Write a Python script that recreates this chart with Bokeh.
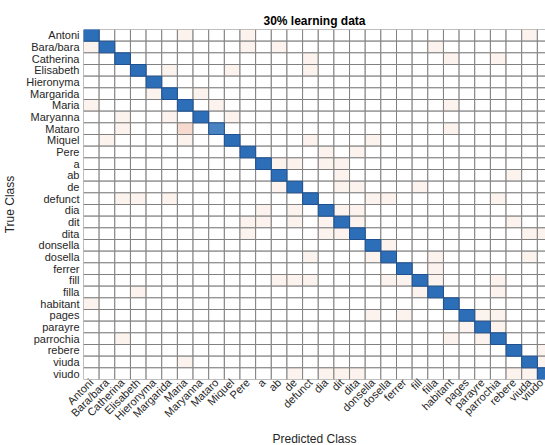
import math

from bokeh.embed import file_html
from bokeh.models import ColumnDataSource, FixedTicker, Range1d, Title
from bokeh.plotting import figure
from bokeh.resources import INLINE

# Class names (rows = true class, columns = predicted class)
classes = [
    "Antoni", "Bara/bara", "Catherina", "Elisabeth", "Hieronyma", "Margarida",
    "Maria", "Maryanna", "Mataro", "Miquel", "Pere", "a", "ab", "de", "defunct",
    "dia", "dit", "dita", "donsella", "dosella", "ferrer", "fill", "filla",
    "habitant", "pages", "parayre", "parrochia", "rebere", "viuda", "viudo",
]

# Correct predictions per class (diagonal of the confusion matrix)
diag_counts = [
    14, 14, 14, 14, 14, 14, 14, 14, 12, 14, 14, 14, 14, 14, 14,
    14, 14, 14, 14, 14, 14, 14, 14, 14, 14, 14, 14, 14, 14, 14,
]

# Misclassifications: (true class, predicted class, count)
errors = [
    ("Antoni", "Maria", 1), ("Antoni", "Pere", 1), ("Antoni", "viuda", 1),
    ("Bara/bara", "Antoni", 1), ("Bara/bara", "Pere", 1), ("Bara/bara", "ab", 1),
    ("Bara/bara", "filla", 1),
    ("Catherina", "defunct", 1), ("Catherina", "habitant", 1), ("Catherina", "parrochia", 1),
    ("Elisabeth", "Margarida", 1), ("Elisabeth", "Miquel", 1), ("Elisabeth", "defunct", 1),
    ("Margarida", "Hieronyma", 1), ("Margarida", "Maryanna", 1),
    ("Maria", "Antoni", 1), ("Maria", "Mataro", 1), ("Maria", "habitant", 1),
    ("Maryanna", "Catherina", 1), ("Maryanna", "Margarida", 1), ("Maryanna", "Miquel", 1),
    ("Mataro", "Catherina", 1), ("Mataro", "Maria", 3), ("Mataro", "habitant", 1),
    ("Miquel", "Bara/bara", 1), ("Miquel", "Maria", 1), ("Miquel", "defunct", 1),
    ("Miquel", "donsella", 1),
    ("Pere", "dia", 1), ("Pere", "dita", 1),
    ("a", "ab", 1), ("a", "de", 1), ("a", "dia", 1), ("a", "dit", 1),
    ("ab", "dit", 1), ("ab", "rebere", 1),
    ("de", "ab", 1), ("de", "dit", 1), ("de", "dita", 1), ("de", "fill", 1),
    ("defunct", "Catherina", 1), ("defunct", "Elisabeth", 1), ("defunct", "Margarida", 1),
    ("defunct", "donsella", 1), ("defunct", "dosella", 1), ("defunct", "parrochia", 1),
    ("dia", "a", 1), ("dia", "de", 1), ("dia", "dit", 1), ("dia", "dita", 1),
    ("dit", "Pere", 1), ("dit", "a", 1), ("dit", "de", 1), ("dit", "dia", 1),
    ("dit", "dita", 1), ("dit", "rebere", 1),
    ("dita", "Pere", 1), ("dita", "dia", 1), ("dita", "dit", 1), ("dita", "viuda", 1),
    ("dita", "viudo", 1),
    ("donsella", "dosella", 1),
    ("dosella", "defunct", 1), ("dosella", "donsella", 1), ("dosella", "filla", 1),
    ("dosella", "viuda", 1),
    ("ferrer", "filla", 1),
    ("fill", "ab", 1), ("fill", "de", 1), ("fill", "defunct", 1), ("fill", "dosella", 1),
    ("fill", "ferrer", 1), ("fill", "filla", 1), ("fill", "parrochia", 1),
    ("filla", "Elisabeth", 1), ("filla", "fill", 1), ("filla", "parrochia", 1),
    ("habitant", "Antoni", 1),
    ("pages", "donsella", 1), ("pages", "ferrer", 1), ("pages", "parayre", 1),
    ("pages", "parrochia", 1),
    ("parayre", "pages", 1), ("parayre", "parrochia", 1),
    ("parrochia", "Catherina", 1), ("parrochia", "habitant", 1), ("parrochia", "parayre", 1),
    ("rebere", "viudo", 1),
    ("viuda", "Maria", 1), ("viuda", "viudo", 1),
    ("viudo", "de", 1), ("viudo", "dia", 1), ("viudo", "dit", 1), ("viudo", "dita", 1),
    ("viudo", "rebere", 1), ("viudo", "viuda", 1),
]

n = len(classes)
index = {name: i for i, name in enumerate(classes)}

counts = [[0] * n for _ in range(n)]
for i, v in enumerate(diag_counts):
    counts[i][i] = v
for t, pcls, v in errors:
    counts[index[t]][index[pcls]] += v

vmax = max(max(row) for row in counts)

DIAG_RGB = (44, 110, 184)
OFF_RGB = (217, 83, 25)


def shade(rgb, frac):
    r, g, b = (round(255 - (255 - c) * frac) for c in rgb)
    return f"#{r:02x}{g:02x}{b:02x}"


cells = dict(left=[], right=[], top=[], bottom=[], color=[])
diag = dict(left=[], right=[], top=[], bottom=[], color=[])
for r in range(n):
    for c in range(n):
        v = counts[r][c]
        target = diag if r == c else cells
        target["left"].append(c)
        target["right"].append(c + 1)
        target["top"].append(r)
        target["bottom"].append(r + 1)
        if v == 0:
            target["color"].append("#ffffff")
        else:
            target["color"].append(shade(DIAG_RGB if r == c else OFF_RGB, v / vmax))

FONT = "Liberation Sans"

p = figure(
    width=545, height=445,
    x_range=Range1d(0, 29.52), y_range=Range1d(n, 0),
    output_backend="svg", toolbar_location=None,
    min_border_left=83, min_border_right=0, min_border_top=29, min_border_bottom=63,
    title="30% learning data",
)
p.title.align = "center"
p.title.text_font = FONT
p.title.text_font_size = "12px"
p.title.text_font_style = "bold"
p.title.text_color = "#000000"
p.title.standoff = 4

p.grid.visible = False
p.outline_line_color = None
p.background_fill_color = "#ffffff"
p.border_fill_color = "#ffffff"

p.quad(left="left", right="right", top="top", bottom="bottom", source=ColumnDataSource(cells),
       fill_color="color", line_color="#808080", line_width=1)
p.quad(left="left", right="right", top="top", bottom="bottom", source=ColumnDataSource(diag),
       fill_color="color", line_color="#1f4f8c", line_width=1)

ticks = [i + 0.5 for i in range(n)]
labels = {i + 0.5: name for i, name in enumerate(classes)}

for ax in (p.xaxis[0], p.yaxis[0]):
    ax.ticker = FixedTicker(ticks=ticks)
    ax.major_label_overrides = labels
    ax.axis_line_color = None
    ax.major_tick_line_color = None
    ax.minor_tick_line_color = None
    ax.major_tick_out = 0
    ax.major_label_text_font = FONT
    ax.major_label_text_font_size = "11px"
    ax.major_label_text_color = "#262626"
    ax.axis_label_text_font = FONT
    ax.axis_label_text_font_size = "12px"
    ax.axis_label_text_font_style = "normal"
    ax.axis_label_text_color = "#262626"

p.xaxis.major_label_orientation = math.pi / 4
p.xaxis.major_label_standoff = 1

p.yaxis.axis_label = "True Class"
p.yaxis.major_label_standoff = 4
p.yaxis.axis_label_standoff = 6

# x-axis title, stacked below the rotated tick labels
p.add_layout(Title(
    text="Predicted Class", align="center", standoff=0, offset=0,
    text_font=FONT, text_font_size="12px", text_font_style="normal", text_color="#262626",
), "below")

open("out.html", "w").write(file_html(p, INLINE))
